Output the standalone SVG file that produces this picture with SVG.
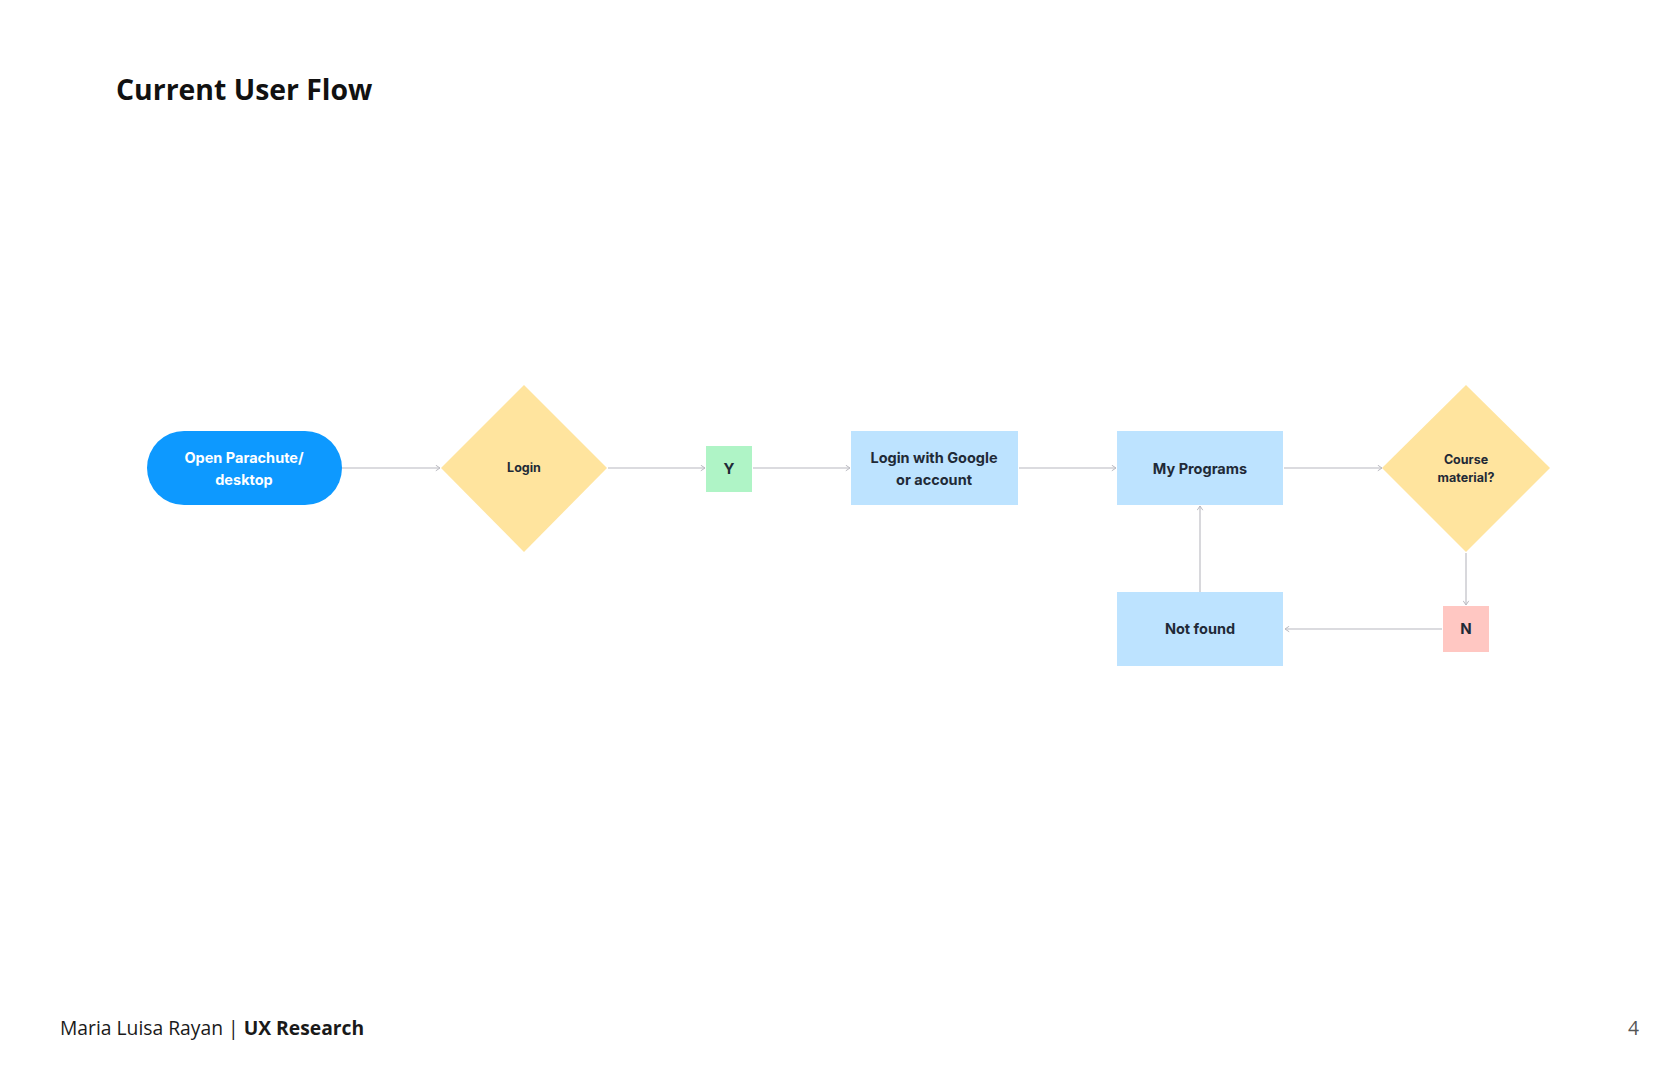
<svg xmlns="http://www.w3.org/2000/svg" width="1680" height="1087" viewBox="0 0 1680 1087">
<style>
.title{font-family:"Open Sans","Noto Sans",sans-serif;font-weight:700;font-size:28.4px;fill:#111}
.foot{font-family:"Open Sans","Noto Sans",sans-serif;font-size:19.3px;fill:#1a1a1a}
.lbl{font-family:Inter,"Liberation Sans",sans-serif;font-weight:700;text-anchor:middle;fill:#1f2a37}
.conn{stroke:#cfcfd4;stroke-width:1.6;fill:none}
.blue{fill:#bde3ff}
.yel{fill:#ffe49e}
</style>
<defs>
<marker id="arr" viewBox="0 0 10 10" refX="9" refY="5" markerWidth="7" markerHeight="7" markerUnits="userSpaceOnUse" orient="auto">
<path d="M3,1 L9,5 L3,9" fill="none" stroke="#b8b8c0" stroke-width="1.4"/>
</marker>
</defs>
<rect width="1680" height="1087" fill="#fff"/>
<text class="title" x="116" y="100">Current User Flow</text>

<g id="connectors">
<line class="conn" x1="342" y1="468" x2="440" y2="468" marker-end="url(#arr)"/>
<line class="conn" x1="608" y1="468" x2="705" y2="468" marker-end="url(#arr)"/>
<line class="conn" x1="753" y1="468" x2="850" y2="468" marker-end="url(#arr)"/>
<line class="conn" x1="1019" y1="468" x2="1116" y2="468" marker-end="url(#arr)"/>
<line class="conn" x1="1284" y1="468" x2="1382" y2="468" marker-end="url(#arr)"/>
<line class="conn" x1="1466" y1="553" x2="1466" y2="605" marker-end="url(#arr)"/>
<line class="conn" x1="1442" y1="629" x2="1285" y2="629" marker-end="url(#arr)"/>
<line class="conn" x1="1200" y1="592" x2="1200" y2="506" marker-end="url(#arr)"/>
</g>

<g id="start">
<rect x="147" y="431" width="195" height="74" rx="37" fill="#0d99ff"/>
<text class="lbl" x="244" y="463" font-size="14.5" style="fill:#fff">Open Parachute/</text>
<text class="lbl" x="244" y="485" font-size="14.5" style="fill:#fff">desktop</text>
</g>

<g id="login">
<polygon class="yel" points="524,385 607,468 524,552 441,468"/>
<text class="lbl" x="524" y="472" font-size="12.5">Login</text>
</g>

<g id="yes">
<rect x="706" y="446" width="46" height="46" fill="#aff4c6"/>
<text class="lbl" x="729" y="474" font-size="15">Y</text>
</g>

<g id="login-google">
<rect class="blue" x="851" y="431" width="167" height="74"/>
<text class="lbl" x="934" y="463" font-size="14.5">Login with Google</text>
<text class="lbl" x="934" y="485" font-size="14.5">or account</text>
</g>

<g id="my-programs">
<rect class="blue" x="1117" y="431" width="166" height="74"/>
<text class="lbl" x="1200" y="474" font-size="14.5">My Programs</text>
</g>

<g id="course-material">
<polygon class="yel" points="1466,385 1550,468 1466,552 1382,468"/>
<text class="lbl" x="1466" y="464" font-size="12.5">Course</text>
<text class="lbl" x="1466" y="482" font-size="12.5">material?</text>
</g>

<g id="no">
<rect x="1443" y="606" width="46" height="46" fill="#ffc7c2"/>
<text class="lbl" x="1466" y="634" font-size="15">N</text>
</g>

<g id="not-found">
<rect class="blue" x="1117" y="592" width="166" height="74"/>
<text class="lbl" x="1200" y="634" font-size="14.5">Not found</text>
</g>

<text class="foot" x="60" y="1035">Maria Luisa Rayan | <tspan font-weight="700">UX Research</tspan></text>
<text class="foot" x="1639" y="1035" text-anchor="end" font-size="21" style="fill:#555">4</text>
</svg>
